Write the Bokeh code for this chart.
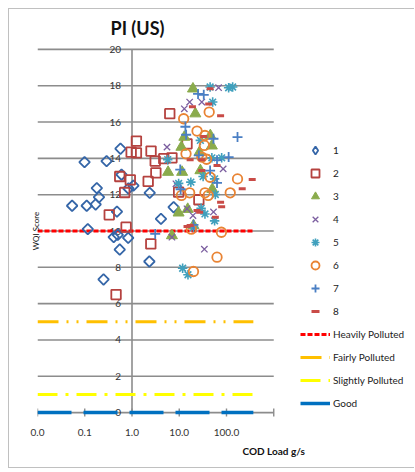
from bokeh.plotting import figure
from bokeh.models import FixedTicker, Legend, LegendItem, Title
from bokeh.core.properties import value
from bokeh.embed import file_html
from bokeh.resources import INLINE
import numpy as np

# ---------------- data ----------------
title_text = "PI (US)"
x_title = "COD Load g/s"
y_title = "WQI Score"
x_ticks = [0.01, 0.1, 1, 10, 100]
x_tick_labels = ["0.0", "0.1", "1.0", "10.0", "100.0"]
y_ticks = [0, 2, 4, 6, 8, 10, 12, 14, 16, 18, 20]
y_tick_labels = ["0", "2", "4", "6", "8", "10", "12", "14", "16", "18", "20"]
axis_cross = 1.0
grid_x_extent = [0.01, 1000]

s1_x = [0.57, 0.099, 0.29, 0.18, 0.20, 0.054, 0.11, 0.17, 0.48, 0.84, 1.07, 0.60, 0.116, 0.41, 0.50, 0.83, 0.55, 0.25, 2.33, 4.1, 7.6, 2.37]
s1_y = [14.53, 13.79, 13.85, 12.36, 11.86, 11.39, 11.39, 11.46, 11.07, 12.34, 12.5, 13.1, 10.1, 9.66, 9.79, 9.62, 8.98, 7.33, 8.32, 10.67, 11.31, 12.1]

s2_x = [1.24, 0.96, 1.24, 0.55, 0.92, 0.70, 0.33, 0.75, 0.46, 6.3, 2.53, 3.1, 4.7, 7.0, 3.2, 2.2, 14.6, 26.0, 2.5, 9.7]
s2_y = [14.95, 14.34, 14.3, 13.0, 12.82, 12.12, 10.89, 10.21, 6.5, 16.46, 14.4, 13.85, 13.98, 14.03, 13.2, 12.73, 14.8, 11.72, 9.29, 12.14]

s3_x = [19.5, 21.9, 12.8, 45.5, 11.1, 26.9, 5.8, 11.5, 28, 50, 9.7, 15.1, 49, 20, 7.0]
s3_y = [17.83, 16.46, 15.17, 15.26, 14.62, 14.34, 13.24, 13.24, 13.33, 12.3, 11.0, 11.2, 14.69, 10.3, 9.75]

s4_x = [16.6, 12.8, 30, 68, 5.5, 85, 8.5, 53, 19.5, 14.6, 34, 7.0]
s4_y = [17.1, 16.73, 17.1, 17.89, 14.62, 13.42, 12.6, 11.05, 10.85, 11.22, 9.0, 9.66]

s5_x = [45, 111, 135, 51, 5.7, 9.7, 17.6, 32, 29, 58, 28, 49, 79, 56, 35, 56, 20, 11.8, 15.3]
s5_y = [17.93, 17.89, 17.93, 17.1, 13.93, 12.62, 12.69, 13.0, 11.25, 12.01, 14.99, 14.03, 14.03, 12.87, 10.94, 10.56, 10.2, 7.95, 7.59]

s6_x = [43, 12.4, 23.8, 35, 34, 13.9, 30, 38, 45, 171, 120, 11.1, 16.6, 35, 41, 78, 18, 63, 20]
s6_y = [16.55, 16.18, 15.5, 15.26, 14.71, 14.25, 14.07, 13.95, 12.96, 12.87, 12.1, 11.96, 12.1, 12.1, 11.96, 9.93, 10.1, 8.56, 7.77]

s7_x = [25, 33, 171, 13.5, 14, 10.5, 63, 63, 111, 26, 10.7, 53, 45, 3.1, 20]
s7_y = [17.55, 17.5, 15.17, 15.74, 15.3, 13.38, 12.65, 13.9, 14.07, 14.16, 12.3, 15.08, 13.33, 9.84, 10.34]

s8_x = [45, 42, 19, 75, 17, 30, 63, 350, 215, 75, 79, 23.8, 58, 14.6, 30, 17, 27, 33]
s8_y = [17.83, 17.0, 16.84, 16.34, 13.92, 13.92, 13.6, 12.84, 12.32, 11.59, 11.33, 11.13, 10.76, 10.25, 13.33, 10.3, 11.03, 15.2]

series_names = ["1", "2", "3", "4", "5", "6", "7", "8"]

threshold_names = ["Heavily Polluted", "Fairly Polluted", "Slightly Polluted", "Good"]
threshold_values = [10, 5, 1, 0]
threshold_x = [0.01, 370]

# ---------------- figure ----------------
FONT = "Lato"
GRAY = "#8c8c8c"
# the frame reaches the right edge so that the legend (drawn inside the frame) is not clipped
p = figure(width=406, height=460, x_axis_type="log", x_range=(0.01, 1e6), y_range=(-0.6, 20.6),
           output_backend="svg", toolbar_location=None, y_axis_location=None,
           min_border_left=28, min_border_right=0, min_border_top=29, min_border_bottom=46)
p.styles = {"margin-left": "8px", "margin-top": "8px",
            "border-left": "1px solid #c0c0c0", "border-top": "1px solid #c0c0c0",
            "border-bottom": "1px solid #c0c0c0"}
p.outline_line_color = None
p.xgrid.visible = False
p.ygrid.visible = False

# title
p.title.text = title_text
p.title.align = "left"
p.title.offset = 73
p.title.standoff = 0
p.title.text_font = FONT
p.title.text_font_size = "18px"
p.title.text_font_style = "bold"
p.title.text_color = "#111111"

# y title on the left
p.add_layout(Title(text=y_title, align="center", text_font=FONT, text_font_size="8px",
                   text_font_style="normal", text_color="#111111", standoff=-6), "left")

# x axis labels
xa = p.xaxis[0]
xa.ticker = FixedTicker(ticks=x_ticks)
xa.major_label_overrides = {t: l for t, l in zip(x_ticks, x_tick_labels)}
xa.axis_line_color = None
xa.major_tick_line_color = None
xa.minor_tick_line_color = None
xa.major_tick_out = 0
xa.major_tick_in = 0
xa.major_label_standoff = 5
xa.major_label_text_font = FONT
xa.major_label_text_font_size = "10px"
xa.major_label_text_color = "#333333"

p.add_layout(Title(text=x_title, align="left", offset=205, text_font=FONT, text_font_size="10px",
                   text_font_style="bold", text_color="#111111", standoff=8), "below")

# horizontal grid lines (also the x axis line at y = 0)
n = len(y_ticks)
p.segment(x0=[grid_x_extent[0]] * n, y0=y_ticks, x1=[grid_x_extent[1]] * n, y1=y_ticks,
          line_color=GRAY, line_width=1.6)
# tick marks on the x axis
p.scatter(x=x_ticks + [grid_x_extent[1]], y=[y_ticks[0]] * (len(x_ticks) + 1), marker="dash",
          angle=np.pi / 2, size=8, line_color=GRAY, line_width=1.4)

# vertical axis line crossing at x = 1 and its labels
p.segment(x0=[axis_cross], y0=[y_ticks[0]], x1=[axis_cross], y1=[y_ticks[-1]],
          line_color=GRAY, line_width=1.6)
p.text(x=[axis_cross] * n, y=y_ticks, text=y_tick_labels, text_align="right",
       text_baseline="middle", x_offset=-11, text_font=value(FONT), text_font_size="10px",
       text_color="#333333")

# threshold lines
line_styles = [("#ff0000", "5 2", 3), ("#ffc000", "21 8 2 8 2 8", 3),
               ("#ffff00", "20 8 3 8", 3), ("#0070c0", "34 12", 3.5)]
line_renderers = []
for v, (c, d, w) in zip(threshold_values, line_styles):
    r = p.line(x=threshold_x, y=[v, v], line_color=c, line_dash=d, line_width=w)
    line_renderers.append(r)

# scatter series
D_COLOR = "#3566a8"
marker_renderers = []
marker_renderers.append(p.scatter(s1_x, s1_y, marker="square", angle=np.pi / 4, size=7.5,
                                  fill_color=None, line_color=D_COLOR, line_width=1.8))
marker_renderers.append(p.scatter(s2_x, s2_y, marker="square", size=9.5,
                                  fill_color=None, line_color="#b5423f", line_width=1.8))
marker_renderers.append(p.scatter(s3_x, s3_y, marker="triangle", size=11,
                                  fill_color="#8aab4c", line_color="#8aab4c"))
marker_renderers.append(p.scatter(s4_x, s4_y, marker="x", size=9,
                                  line_color="#7c5fa0", line_width=1.3))
marker_renderers.append(p.scatter(s5_x, s5_y, marker="asterisk", size=9.5,
                                  line_color="#40a0bd", line_width=1.6))
marker_renderers.append(p.scatter(s6_x, s6_y, marker="circle", size=9.5,
                                  fill_color=None, line_color="#e98434", line_width=1.8))
marker_renderers.append(p.scatter(s7_x, s7_y, marker="cross", size=10,
                                  line_color="#4a7fc4", line_width=1.8))
marker_renderers.append(p.scatter(s8_x, s8_y, marker="dash", size=7,
                                  line_color="#c94b47", line_width=3))

# legend swatch for the diamond series (legend markers are drawn without rotation)
diamond_swatch = p.scatter(s1_x, s1_y, marker="diamond", size=10.5, fill_color=None,
                           line_color=D_COLOR, line_width=1.8, visible=False)
legend_renderers = [diamond_swatch] + marker_renderers[1:]

items = [LegendItem(label=nm, renderers=[r]) for nm, r in zip(series_names, legend_renderers)]
items += [LegendItem(label=nm, renderers=[r]) for nm, r in zip(threshold_names, line_renderers)]
legend = Legend(items=items, location=(263, 10), glyph_width=30, glyph_height=20, label_height=20,
                spacing=3, padding=0, margin=0, border_line_color=None, background_fill_alpha=0,
                label_text_font=FONT, label_text_font_size="10px", label_standoff=3,
                label_text_color="#222222", click_policy="none")
p.add_layout(legend)

open("out.html", "w").write(file_html(p, INLINE))
